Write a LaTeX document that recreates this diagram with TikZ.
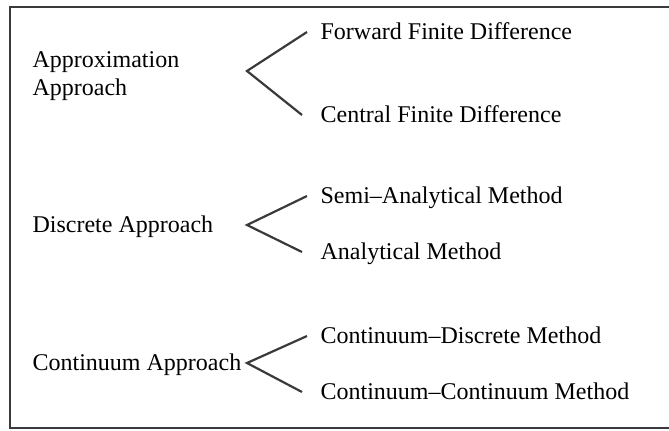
\documentclass[tikz,border=0pt]{standalone}
\usepackage{fontspec}
\setmainfont{Liberation Serif}
\usetikzlibrary{positioning}
\definecolor{framegray}{RGB}{58,58,60}

\begin{document}
\begin{tikzpicture}[x=0.5pt, y=-0.5pt, semithick,
               approach/.style={anchor=base west, inner sep=0pt, align=left,
               font=\fontsize{12}{14}\selectfont},
               method/.style={anchor=base west, inner sep=0pt, text height=9pt, text depth=2pt,
               font=\fontsize{12}{14}\selectfont},
               branch/.style={draw=framegray, line width=1.1pt, line join=miter},
               frame/.style={draw=framegray, line width=1.3pt}]

           \useasboundingbox (0,0) rectangle (669,430);
           \draw[frame] (669,7) -- (10,7) -- (10,428) -- (669,428);

           %\node [estilo] (nombre) at (x,y) {};
           \node[approach] (a1) at (32, 95) {Approximation\\Approach};
           \node[approach] (a2) at (32, 232) {Discrete Approach};
           \node[approach] (a3) at (32, 370) {Continuum Approach};

           \coordinate (v1) at (247, 71);
           \coordinate (v2) at (247, 225);
           \coordinate (v3) at (247, 363);

           \node[method] (f1) at (320, 39) {Forward Finite Difference};
           \node[method] (c1) at (320, 122) {Central Finite Difference};
           \node[method] (s2) at (320, 203) {Semi--Analytical Method};
           \node[method] (n2) at (320, 259) {Analytical Method};
           \node[method] (d3) at (320, 343) {Continuum--Discrete Method};
           \node[method] (u3) at (320, 399) {Continuum--Continuum Method};

           \draw[branch] ([xshift=-6.5pt]f1.west) -- (v1) -- ([xshift=-9pt]c1.west);
           \draw[branch] ([xshift=-6.5pt]s2.west) -- (v2) -- ([xshift=-9pt]n2.west);
           \draw[branch] ([xshift=-6.5pt]d3.west) -- (v3) -- ([xshift=-9pt]u3.west);

       \end{tikzpicture}
\end{document}
